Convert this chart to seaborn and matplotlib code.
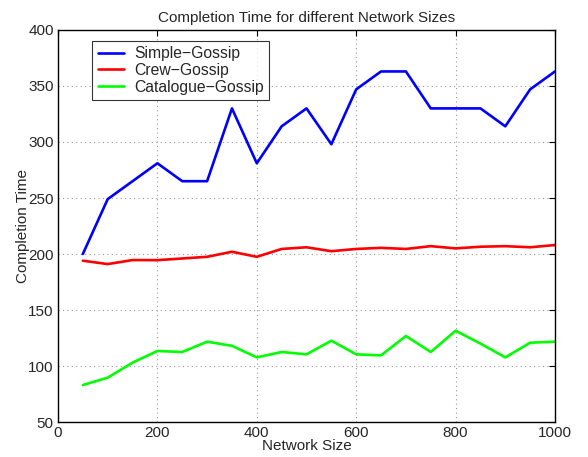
import matplotlib
matplotlib.use("Agg")
import matplotlib.pyplot as plt
import seaborn as sns
import pandas as pd

network_size = [50, 100, 150, 200, 250, 300, 350, 400, 450, 500,
                550, 600, 650, 700, 750, 800, 850, 900, 950, 1000]
simple_gossip = [200, 249, 265, 281, 265, 265, 330, 281, 314, 330,
                 298, 347, 363, 363, 330, 330, 330, 314, 347, 363]
crew_gossip = [194, 191, 194.6, 194.5, 196, 197.5, 202, 197.5, 204.5, 206,
               202.5, 204.5, 205.5, 204.5, 207, 205, 206.5, 207, 206, 208]
catalogue_gossip = [83, 89.6, 103, 113.4, 112.5, 121.7, 118, 107.7, 112.5, 110.4,
                    122.6, 110.4, 109.5, 126.8, 112.5, 131.5, 120, 107.7, 120.8, 121.7]
series_names = ["Simple\u2212Gossip", "Crew\u2212Gossip", "Catalogue\u2212Gossip"]
series_colors = ["#0000ff", "#ff0000", "#00ff00"]
x_ticks = [0, 200, 400, 600, 800, 1000]
y_ticks = [50, 100, 150, 200, 250, 300, 350, 400]

frames = []
for name, vals in zip(series_names, [simple_gossip, crew_gossip, catalogue_gossip]):
    frames.append(pd.DataFrame({"Network Size": network_size, "Completion Time": vals, "Series": name}))
df = pd.concat(frames, ignore_index=True)

sns.set_style("white")
plt.rcParams['font.family'] = ['Liberation Sans', 'DejaVu Sans']
plt.rcParams['axes.unicode_minus'] = True

fig = plt.figure(figsize=(5.88, 4.57), dpi=100)
ax = fig.add_axes([58/588, 1-422/457, (555-58)/588, (422-30)/457])
sns.lineplot(data=df, x="Network Size", y="Completion Time", hue="Series",
             palette=dict(zip(series_names, series_colors)), linewidth=1.9, ax=ax)

ax.set_xlim(0, 1000)
ax.set_ylim(50, 400)
ax.set_xticks(x_ticks)
ax.set_yticks(y_ticks)
ax.tick_params(direction="in", length=4, labelsize=11, top=True, right=True,
               color="black", width=0.8, pad=3)
ax.grid(True, linestyle=(0, (1, 3)), color="#999999", linewidth=0.8)
for s in ax.spines.values():
    s.set_color("black")
    s.set_linewidth(1.0)
ax.set_title("Completion Time for different Network Sizes", fontsize=11, pad=6)
ax.set_xlabel("Network Size", fontsize=11, labelpad=-1)
ax.set_ylabel("Completion Time", fontsize=11, labelpad=-1)

leg = ax.legend(loc="upper left", bbox_to_anchor=(0.069, 0.973), borderaxespad=0,
                fontsize=11.3, frameon=True, fancybox=False, edgecolor="black",
                handlelength=1.7, borderpad=0.35, labelspacing=0.12, handletextpad=0.6)
leg.get_frame().set_linewidth(0.8)
leg.set_title(None)

fig.savefig("out.png", dpi=100)
